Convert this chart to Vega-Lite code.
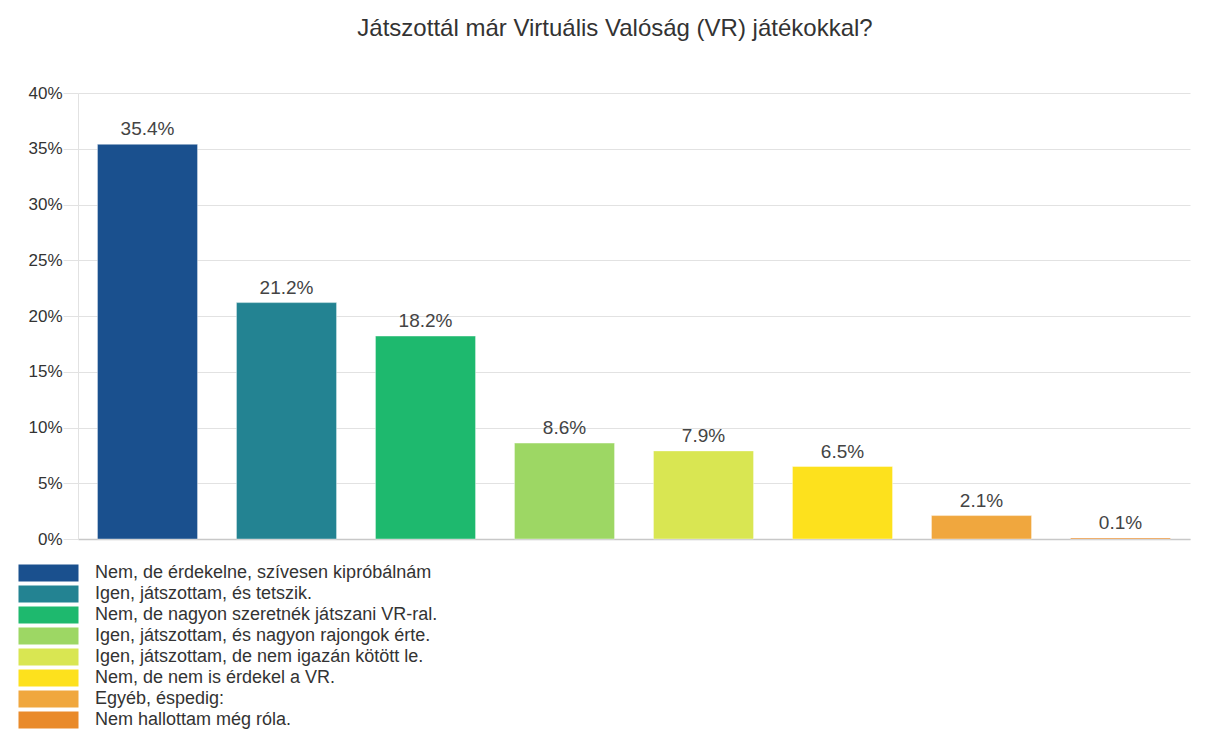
{
  "$schema": "https://vega.github.io/schema/vega-lite/v6.json",
  "width": 1112,
  "height": 446,
  "autosize": {"type": "none"},
  "padding": {"left": 78, "top": 93, "right": 16, "bottom": 194},
  "background": "white",
  "config": {
    "font": "Liberation Sans",
    "view": {"stroke": null}
  },
  "title": {
    "text": "Játszottál már Virtuális Valóság (VR) játékokkal?",
    "fontSize": 24,
    "fontWeight": "normal",
    "color": "#333333",
    "anchor": "middle",
    "offset": 43,
    "dx": -19
  },
  "data": {
    "values": [
      {"answer": "Nem, de érdekelne, szívesen kipróbálnám", "pct": 35.4},
      {"answer": "Igen, játszottam, és tetszik.", "pct": 21.2},
      {"answer": "Nem, de nagyon szeretnék játszani VR-ral.", "pct": 18.2},
      {"answer": "Igen, játszottam, és nagyon rajongok érte.", "pct": 8.6},
      {"answer": "Igen, játszottam, de nem igazán kötött le.", "pct": 7.9},
      {"answer": "Nem, de nem is érdekel a VR.", "pct": 6.5},
      {"answer": "Egyéb, éspedig:", "pct": 2.1},
      {"answer": "Nem hallottam még róla.", "pct": 0.1}
    ]
  },
  "encoding": {
    "x": {
      "field": "answer",
      "type": "nominal",
      "sort": null,
      "scale": {"paddingInner": 0.28, "paddingOuter": 0.14},
      "axis": {"labels": false, "ticks": false, "title": null, "domainColor": "#c8c8c8", "domainWidth": 1.5}
    },
    "y": {
      "field": "pct",
      "type": "quantitative",
      "scale": {"domain": [0, 40]},
      "axis": {
        "title": null,
        "values": [0, 5, 10, 15, 20, 25, 30, 35, 40],
        "labelExpr": "datum.value + '%'",
        "labelFontSize": 17,
        "labelColor": "#333333",
        "labelPadding": 1,
        "tickSize": 15,
        "tickColor": "#e2e2e2",
        "gridColor": "#e2e2e2",
        "domainColor": "#e2e2e2",
        "grid": true
      }
    }
  },
  "layer": [
    {
      "mark": {"type": "bar", "stroke": "#ffffff", "strokeOpacity": 0.4, "strokeWidth": 1},
      "encoding": {
        "color": {
          "field": "answer",
          "type": "nominal",
          "sort": null,
          "scale": {
            "domain": [
              "Nem, de érdekelne, szívesen kipróbálnám",
              "Igen, játszottam, és tetszik.",
              "Nem, de nagyon szeretnék játszani VR-ral.",
              "Igen, játszottam, és nagyon rajongok érte.",
              "Igen, játszottam, de nem igazán kötött le.",
              "Nem, de nem is érdekel a VR.",
              "Egyéb, éspedig:",
              "Nem hallottam még róla."
            ],
            "range": ["#1a508e", "#238392", "#1eb96e", "#9dd764", "#d9e652", "#fde11d", "#f0a73e", "#e98a2a"]
          },
          "legend": {
            "title": null,
            "orient": "none",
            "legendX": -38.5,
            "legendY": 471,
            "symbolType": "M-3.53,-1H3.53V1H-3.53Z",
            "symbolSize": 289,
            "symbolStrokeWidth": 0,
            "symbolOpacity": 1,
            "labelFontSize": 18,
            "labelColor": "#333333",
            "labelOffset": 37.5,
            "labelLimit": 700,
            "rowPadding": 3,
            "padding": 0
          }
        }
      }
    },
    {
      "mark": {
        "type": "text",
        "baseline": "alphabetic",
        "dy": -9,
        "fontSize": 19,
        "color": "#444444",
        "text": {"expr": "format(datum.pct, '.1f') + '%'"}
      },
      "encoding": {}
    }
  ]
}
